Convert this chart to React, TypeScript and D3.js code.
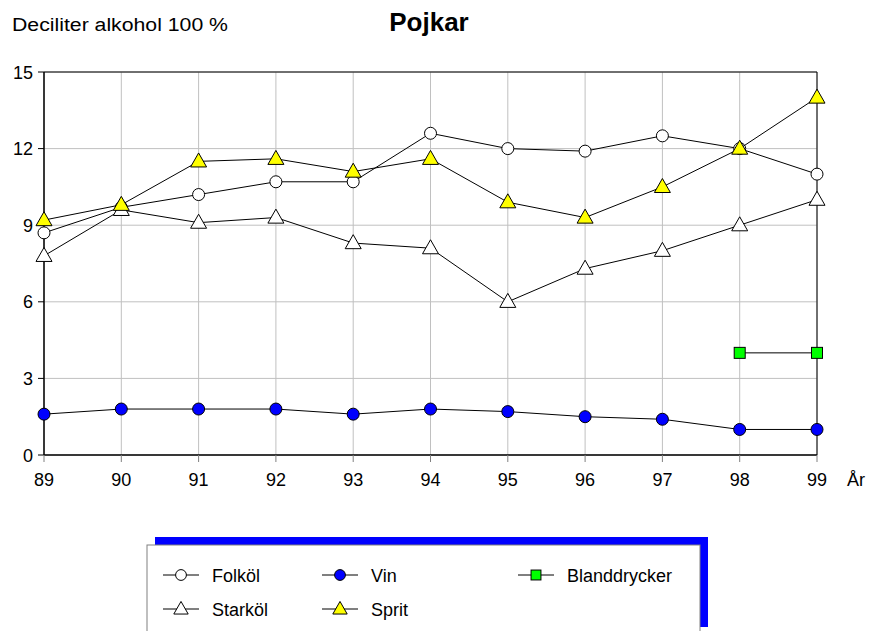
import React from "react";
import * as d3 from "d3";

const years = ["89", "90", "91", "92", "93", "94", "95", "96", "97", "98", "99"];
const folkol = [8.7, 9.7, 10.2, 10.7, 10.7, 12.6, 12.0, 11.9, 12.5, 12.0, 11.0];
const starkol = [7.8, 9.6, 9.1, 9.3, 8.3, 8.1, 6.0, 7.3, 8.0, 9.0, 10.0];
const vin = [1.6, 1.8, 1.8, 1.8, 1.6, 1.8, 1.7, 1.5, 1.4, 1.0, 1.0];
const blanddrycker: (number | null)[] = [null, null, null, null, null, null, null, null, null, 4.0, 4.0];
const sprit = [9.2, 9.8, 11.5, 11.6, 11.1, 11.6, 9.9, 9.3, 10.5, 12.0, 14.0];
const yTicks = [0, 3, 6, 9, 12, 15];

const FONT = "'Liberation Sans', Arial, Helvetica, sans-serif";

type MarkerKind = "circle" | "triangle" | "square";

function Marker({ kind, x, y, fill, s = 1 }: { kind: MarkerKind; x: number; y: number; fill: string; s?: number }) {
  if (kind === "circle") return <circle cx={x} cy={y} r={6 * s} fill={fill} stroke="#000" strokeWidth={1} />;
  if (kind === "square")
    return <rect x={x - 5.5 * s} y={y - 5.5 * s} width={11 * s} height={11 * s} fill={fill} stroke="#000" strokeWidth={1} />;
  const h = 14 * s, w = 16 * s;
  return (
    <path
      d={`M${x},${y - h * 0.6} L${x + w / 2},${y + h * 0.4} L${x - w / 2},${y + h * 0.4} Z`}
      fill={fill}
      stroke="#000"
      strokeWidth={1}
    />
  );
}

export default function App() {
  const W = 870, H = 631;
  const left = 44, right = 817, top = 72, bottom = 455;
  const x = d3.scalePoint<string>().domain(years).range([left, right]);
  const y = d3.scaleLinear().domain([0, 15]).range([bottom, top]);

  const series: { name: string; data: (number | null)[]; kind: MarkerKind; fill: string }[] = [
    { name: "Folköl", data: folkol, kind: "circle", fill: "#ffffff" },
    { name: "Starköl", data: starkol, kind: "triangle", fill: "#ffffff" },
    { name: "Vin", data: vin, kind: "circle", fill: "#0000ff" },
    { name: "Blanddrycker", data: blanddrycker, kind: "square", fill: "#00ff00" },
    { name: "Sprit", data: sprit, kind: "triangle", fill: "#ffff00" },
  ];

  const line = d3
    .line<number | null>()
    .defined((d) => d != null)
    .x((_, i) => x(years[i])!)
    .y((d) => y(d as number));

  const legendItems = [
    { s: series[0], lx: 163, ly: 575 },
    { s: series[2], lx: 322, ly: 575 },
    { s: series[3], lx: 518, ly: 575 },
    { s: series[1], lx: 163, ly: 609 },
    { s: series[4], lx: 322, ly: 609 },
  ];

  return (
    <svg width={W} height={H} style={{ position: "absolute", left: 0, top: 0 }} fontFamily={FONT}>
      <rect width={W} height={H} fill="#fff" />
      <text x={12} y={31} fontSize={18} fill="#000" textLength={216} lengthAdjust="spacingAndGlyphs">
        Deciliter alkohol 100 %
      </text>
      <text x={429} y={31} fontSize={26} fontWeight="bold" textAnchor="middle" fill="#000">Pojkar</text>

      {/* grid */}
      {years.map((yr) => (
        <line key={"vg" + yr} x1={x(yr)} x2={x(yr)} y1={top} y2={bottom} stroke="#c0c0c0" strokeWidth={1} />
      ))}
      {yTicks.map((t) => (
        <line key={"hg" + t} x1={left} x2={right} y1={y(t)} y2={y(t)} stroke="#c0c0c0" strokeWidth={1} />
      ))}
      {/* frame */}
      <line x1={left} x2={right} y1={top} y2={top} stroke="#000" />
      <line x1={right} x2={right} y1={top} y2={bottom} stroke="#000" />
      <line x1={left} x2={left} y1={top} y2={bottom} stroke="#000" strokeWidth={1.5} />
      <line x1={left} x2={right} y1={bottom} y2={bottom} stroke="#000" strokeWidth={1.5} />

      {/* y ticks */}
      {yTicks.map((t) => (
        <g key={"yt" + t}>
          <line x1={left - 6} x2={left} y1={y(t)} y2={y(t)} stroke="#000" />
          <text x={33} y={y(t) + 6.5} fontSize={18} textAnchor="end" fill="#000">{t}</text>
        </g>
      ))}
      {/* x ticks */}
      {years.map((yr) => (
        <g key={"xt" + yr}>
          <line x1={x(yr)} x2={x(yr)} y1={bottom} y2={bottom + 7} stroke="#808080" />
          <text x={x(yr)} y={486} fontSize={18} textAnchor="middle" fill="#000">{yr}</text>
        </g>
      ))}
      <text x={847} y={486} fontSize={18} fill="#000">År</text>

      {/* series */}
      {series.map((s) => (
        <g key={s.name}>
          <path d={line(s.data) || ""} fill="none" stroke="#000" strokeWidth={1} />
          {s.data.map((d, i) =>
            d == null ? null : <Marker key={i} kind={s.kind} x={x(years[i])!} y={y(d)} fill={s.fill} />
          )}
        </g>
      ))}

      {/* legend */}
      <rect x={155} y={537} width={553} height={90} fill="#0000ff" />
      <rect x={147} y={545} width={553} height={100} fill="#fff" stroke="#808080" strokeWidth={1} />
      {legendItems.map(({ s, lx, ly }) => (
        <g key={"lg" + s.name}>
          <line x1={lx} x2={lx + 36} y1={ly} y2={ly} stroke="#000" />
          <Marker kind={s.kind} x={lx + 18} y={ly} fill={s.fill} s={0.9} />
          <text x={lx + 49} y={ly + 6.5} fontSize={18} fill="#000">{s.name}</text>
        </g>
      ))}
    </svg>
  );
}
